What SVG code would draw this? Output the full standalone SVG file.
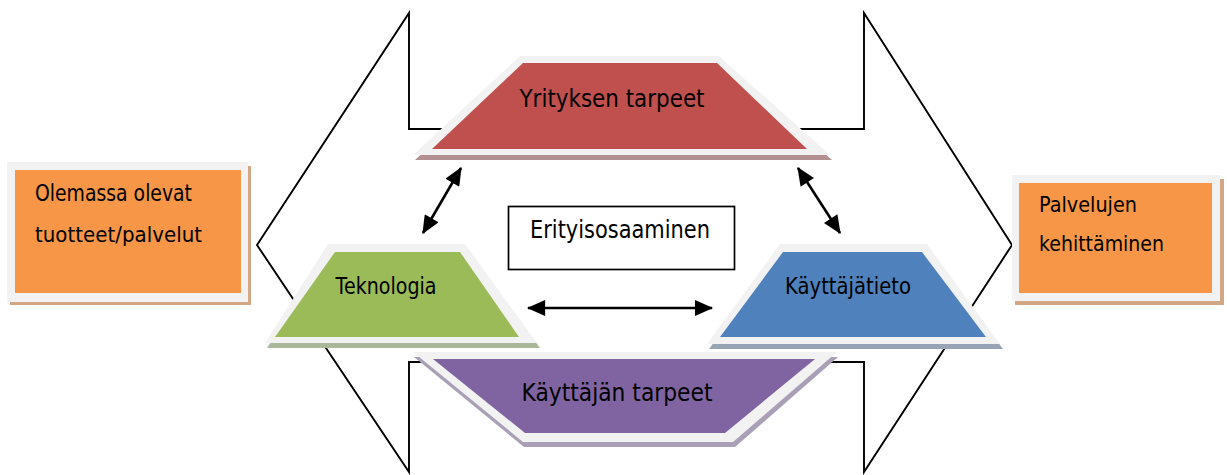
<svg xmlns="http://www.w3.org/2000/svg" width="1227" height="475" viewBox="0 0 1227 475">
<defs>
<style>
.t{font-family:"DejaVu Sans","Liberation Sans",sans-serif;fill:#000}
.frame{fill:#F2F2F2}
.line{stroke:#000;stroke-width:2.6;fill:none}
</style>
<marker id="ah" viewBox="0 0 16 14" refX="15" refY="7" markerWidth="19" markerHeight="16" orient="auto-start-reverse" markerUnits="userSpaceOnUse">
<path d="M0,0 L16,7 L0,14 z" fill="#000"/>
</marker>
</defs>
<rect width="1227" height="475" fill="#fff"/>

<g id="outline">
<polygon points="409,129 409,13 257,245 409,472 409,362 864,362 864,472 1012,245 864,13 864,129" fill="#fff" stroke="#000" stroke-width="1.9" stroke-linejoin="miter"/>
</g>

<g id="box-left">
<rect x="10" y="166" width="241" height="139" fill="#D3A684"/>
<rect x="7" y="162" width="241" height="140" class="frame"/>
<rect x="15" y="170" width="226" height="123" fill="#F79646"/>
<text class="t" x="35" y="201" font-size="22.5" textLength="157" lengthAdjust="spacingAndGlyphs">Olemassa olevat</text>
<text class="t" x="35" y="242" font-size="22" textLength="167" lengthAdjust="spacingAndGlyphs">tuotteet/palvelut</text>
</g>

<g id="box-right">
<rect x="1015" y="179" width="209" height="126" fill="#D3A684"/>
<rect x="1012" y="175" width="208" height="126" class="frame"/>
<rect x="1019" y="183" width="193" height="110" fill="#F79646"/>
<text class="t" x="1039" y="212" font-size="21" textLength="98" lengthAdjust="spacingAndGlyphs">Palvelujen</text>
<text class="t" x="1039" y="251" font-size="21" textLength="125" lengthAdjust="spacingAndGlyphs">kehittäminen</text>
</g>

<g id="yrityksen">
<polygon points="522,61 721,61 832,160 415,160" fill="#B39191"/>
<polygon points="520,56 719,56 830,155 413,155" class="frame"/>
<polygon points="523,63 717,63 807,149 432,149" fill="#C0504D"/>
<text class="t" x="612" y="107" font-size="25" text-anchor="middle" textLength="185" lengthAdjust="spacingAndGlyphs">Yrityksen tarpeet</text>
</g>

<g id="teknologia">
<polygon points="330,249 467,249 540,348 267,348" fill="#A9B79A"/>
<polygon points="328,244 465,244 537,343 265,343" class="frame"/>
<polygon points="335,252 460,252 519,337 275,337" fill="#9BBB59"/>
<text class="t" x="386" y="294" font-size="22.5" text-anchor="middle" textLength="101" lengthAdjust="spacingAndGlyphs">Teknologia</text>
</g>

<g id="kayttajatieto">
<polygon points="782,249 929,249 1003,349 709,349" fill="#98A4B6"/>
<polygon points="780,244 927,244 1000,344 707,344" class="frame"/>
<polygon points="783,252 922,252 986,337 720,337" fill="#4F81BD"/>
<text class="t" x="848" y="294" font-size="22.5" text-anchor="middle" textLength="126" lengthAdjust="spacingAndGlyphs">Käyttäjätieto</text>
</g>

<g id="kayttajan">
<polygon points="414,357 838,357 735,447 524,447" fill="#A9A0B8"/>
<polygon points="413,352 837,352 733,442 523,442" class="frame"/>
<polygon points="433,359 815,359 725,433 525,433" fill="#8064A2"/>
<text class="t" x="617" y="401" font-size="25" text-anchor="middle" textLength="191" lengthAdjust="spacingAndGlyphs">Käyttäjän tarpeet</text>
</g>

<g id="erityisosaaminen">
<rect x="508.5" y="206.5" width="226" height="63" fill="#fff" stroke="#000" stroke-width="1.7"/>
<text class="t" x="620" y="238" font-size="24.5" text-anchor="middle" textLength="180" lengthAdjust="spacingAndGlyphs">Erityisosaaminen</text>
</g>

<g id="connectors">
<line class="line" x1="461" y1="168" x2="423" y2="233" marker-start="url(#ah)" marker-end="url(#ah)"/>
<line class="line" x1="798" y1="168" x2="840" y2="233" marker-start="url(#ah)" marker-end="url(#ah)"/>
<line class="line" x1="528" y1="308" x2="712" y2="308" marker-start="url(#ah)" marker-end="url(#ah)"/>
</g>
</svg>
